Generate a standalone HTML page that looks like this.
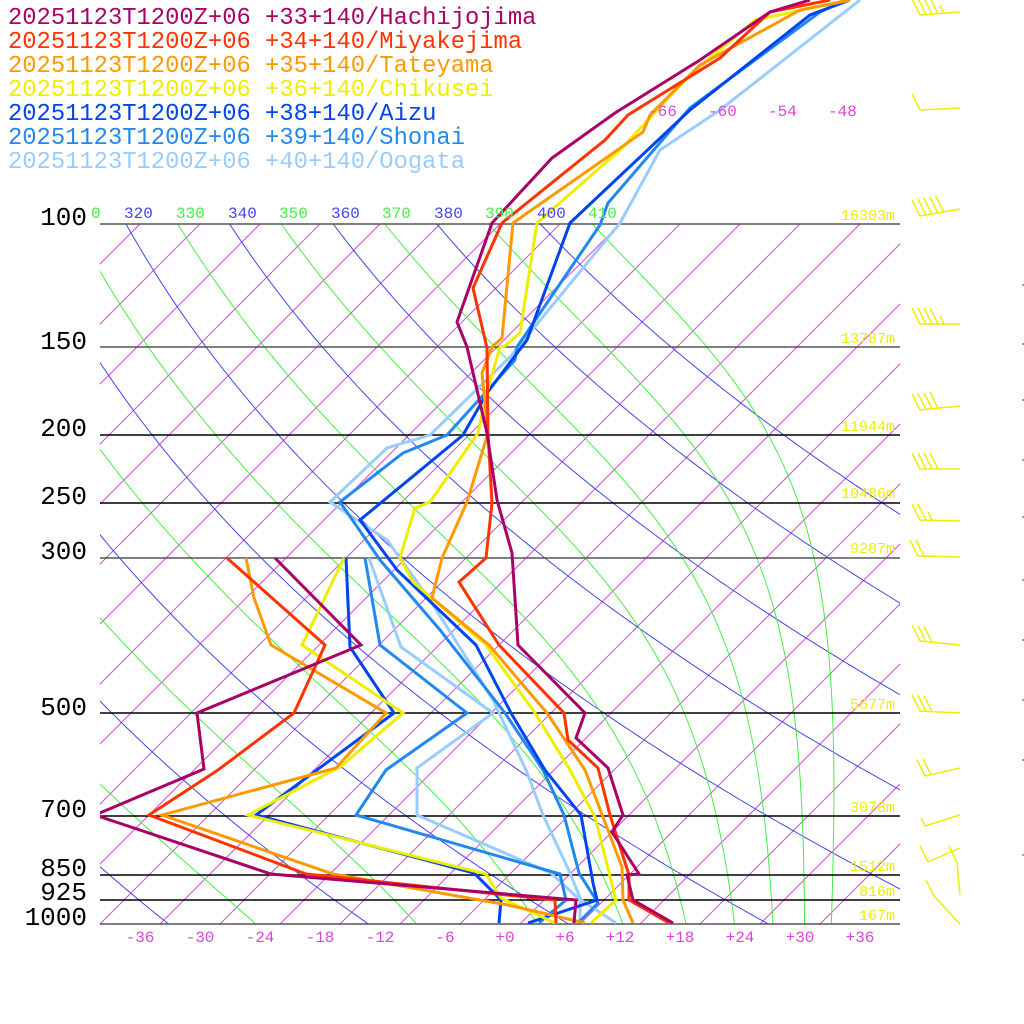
<!DOCTYPE html>
<html><head><meta charset="utf-8"><style>
html,body{margin:0;padding:0;background:#fff;width:1024px;height:1024px;overflow:hidden}
svg{display:block}
</style></head><body>
<svg id="c" width="1024" height="1024" viewBox="0 0 1024 1024" xmlns="http://www.w3.org/2000/svg">
<defs><clipPath id="pc"><rect x="100" y="224" width="800" height="700"/></clipPath>
<clipPath id="pc2"><rect x="100" y="0" width="800" height="924"/></clipPath></defs>
<g id="grid" clip-path="url(#pc)"></g>
<g id="plines" stroke="#000" stroke-width="1.5"></g>
<g id="series" fill="none" stroke-width="3" stroke-linejoin="miter" clip-path="url(#pc2)"></g>
<g id="barbs" stroke="#eeee00" stroke-width="1.5" fill="none"></g>
<g font-family="Liberation Mono, DejaVu Sans Mono, monospace" font-size="23.8">
<text x="8" y="24" fill="#aa0066">20251123T1200Z+06 +33+140/Hachijojima</text>
<text x="8" y="48" fill="#ff3300">20251123T1200Z+06 +34+140/Miyakejima</text>
<text x="8" y="72" fill="#ff9900">20251123T1200Z+06 +35+140/Tateyama</text>
<text x="8" y="96" fill="#eeee00">20251123T1200Z+06 +36+140/Chikusei</text>
<text x="8" y="120" fill="#0044ee">20251123T1200Z+06 +38+140/Aizu</text>
<text x="8" y="144" fill="#2288ee">20251123T1200Z+06 +39+140/Shonai</text>
<text x="8" y="168" fill="#99ccff">20251123T1200Z+06 +40+140/Oogata</text>
</g>
<g font-family="Liberation Mono, DejaVu Sans Mono, monospace" font-size="26" fill="#000" text-anchor="end">
<text x="87" y="225">100</text><text x="87" y="349">150</text><text x="87" y="436">200</text>
<text x="87" y="504">250</text><text x="87" y="559">300</text><text x="87" y="715">500</text>
<text x="87" y="817">700</text><text x="87" y="876">850</text><text x="87" y="900">925</text>
<text x="87" y="925">1000</text>
</g>
<g font-family="Liberation Mono, DejaVu Sans Mono, monospace" font-size="16">
<text x="91" y="218" fill="#44ee44">0</text>
<text x="124" y="218" fill="#4444ee">320</text>
<text x="176" y="218" fill="#44ee44">330</text>
<text x="228" y="218" fill="#4444ee">340</text>
<text x="279" y="218" fill="#44ee44">350</text>
<text x="331" y="218" fill="#4444ee">360</text>
<text x="382" y="218" fill="#44ee44">370</text>
<text x="434" y="218" fill="#4444ee">380</text>
<text x="485" y="218" fill="#44ee44">390</text>
<text x="537" y="218" fill="#4444ee">400</text>
<text x="588" y="218" fill="#44ee44">410</text>
</g>
<g font-family="Liberation Mono, DejaVu Sans Mono, monospace" font-size="16" fill="#dd44dd">
<text x="648" y="116">-66</text><text x="708" y="116">-60</text><text x="768" y="116">-54</text><text x="828" y="116">-48</text>
</g>
<g font-family="Liberation Mono, DejaVu Sans Mono, monospace" font-size="16" fill="#dd44dd" text-anchor="middle">
<text x="140" y="942">-36</text><text x="200" y="942">-30</text><text x="260" y="942">-24</text>
<text x="320" y="942">-18</text><text x="380" y="942">-12</text><text x="445" y="942">-6</text>
<text x="505" y="942">+0</text><text x="565" y="942">+6</text><text x="620" y="942">+12</text>
<text x="680" y="942">+18</text><text x="740" y="942">+24</text><text x="800" y="942">+30</text>
<text x="860" y="942">+36</text>
</g>
<g font-family="Liberation Mono, DejaVu Sans Mono, monospace" font-size="15" fill="#eeee00" text-anchor="end">
<text x="895" y="220">16303m</text><text x="895" y="343">13787m</text><text x="895" y="431">11944m</text>
<text x="895" y="498">10486m</text><text x="895" y="553">9287m</text><text x="895" y="709">5677m</text>
<text x="895" y="812">3078m</text><text x="895" y="871">1512m</text><text x="895" y="896">816m</text>
<text x="895" y="920">167m</text>
</g>
<g stroke="#dd44dd" stroke-width="1.5">
<line x1="1022" y1="285" x2="1024" y2="285"/><line x1="1022" y1="344" x2="1024" y2="344"/>
<line x1="1022" y1="400" x2="1024" y2="400"/><line x1="1022" y1="460" x2="1024" y2="460"/>
<line x1="1022" y1="517" x2="1024" y2="517"/><line x1="1022" y1="580" x2="1024" y2="580"/>
<line x1="1022" y1="640" x2="1024" y2="640"/><line x1="1022" y1="700" x2="1024" y2="700"/>
<line x1="1022" y1="760" x2="1024" y2="760"/><line x1="1022" y1="855" x2="1024" y2="855"/>
</g>
</svg>
<script>
(function(){
var NS="http://www.w3.org/2000/svg";
function Y(p){return 924-304*Math.log(1000/p);}
function X(T,p){return 500+10*T+(924-Y(p));}
function el(par,tag,a){var e=document.createElementNS(NS,tag);for(var k in a)e.setAttribute(k,a[k]);par.appendChild(e);return e;}
var g=document.getElementById("grid");
for(var T=-160;T<=36;T+=6){
  el(g,"line",{x1:500+10*T,y1:924,x2:500+10*T+924,y2:0,stroke:"#dd44ee","stroke-width":1});
}
for(var th=200;th<=400;th+=20){
  var pts=[];
  for(var p=1000;p>=95;p-=5){var t=th*Math.pow(p/1000,0.2857)-273.15;pts.push(X(t,p).toFixed(1)+","+Y(p).toFixed(1));}
  el(g,"polyline",{points:pts.join(" "),fill:"none",stroke:"#4444ee","stroke-width":1});
}
var Rd=287.04,cp=1005.7,L=2.501e6,eps=0.622;
for(var th=210;th<=410;th+=20){
  var p=100,T=th*Math.pow(0.1,0.2857),pts=[];
  while(p<=1000.01){
    pts.push(X(T-273.15,p).toFixed(1)+","+Y(p).toFixed(1));
    var es=6.112*Math.exp(17.67*(T-273.15)/(T-29.65));
    var rs=eps*es/Math.max(p-es,1);
    var dTdp=(Rd*T+L*rs)/(cp+L*L*rs*eps/(Rd*T*T))/p;
    var dp=1; T+=dTdp*dp; p+=dp;
  }
  el(g,"polyline",{points:pts.join(" "),fill:"none",stroke:"#44ee44","stroke-width":1});
}
var pl=document.getElementById("plines");
[100,150,200,250,300,500,700,850,925,1000].forEach(function(p){var y=Math.round(Y(p));el(pl,"line",{x1:100,y1:y,x2:900,y2:y,stroke:(p==1000||p==100||p==150||p==300)?"#555":"#000"});});
var S=document.getElementById("series");
var data=[
["#99ccff","616,923 581,900 570,873 543,815 526,770 493,700 430,600 387,540 330,502 387,448 430,435 510,357 620,223 660,150 720,110 860,0"],
["#99ccff","580,923 580,900 551,873 417,815 417,768 493,713 401,647 369,558"],
["#2288ee","578,923 598,903 579,873 564,815 543,770 505,713 440,630 380,560 340,502 403,453 447,435 515,360 517,347 600,225 608,203 690,108 820,12 845,0"],
["#2288ee","539,923 566,900 560,874 356,815 386,770 467,713 380,645 365,558"],
["#0044ee","528,923 597,900 593,883 581,815 545,770 511,713 476,645 397,570 360,520 463,435 487,393 527,340 570,223 690,110 810,15 850,0"],
["#0044ee","499,923 501,900 474,873 256,815 394,713 350,647 346,558"],
["#eeee00","591,923 616,900 595,817 570,770 535,713 486,645 413,582 400,558 415,508 430,502 478,433 487,392 500,347 505,346 520,333 537,223 620,150 690,75 755,20 850,0"],
["#eeee00","555,923 501,898 486,874 248,815 340,767 403,713 302,645 344,558"],
["#ff9900","633,923 623,900 622,867 585,770 547,713 489,645 432,598 442,558 467,502 488,433 482,373 492,347 502,338 513,223 643,132 650,115 700,65 800,10 850,0"],
["#ff9900","585,923 508,905 333,874 162,815 336,768 386,713 271,645 254,598 246,558"],
["#ff3300","669,923 629,900 629,875 610,815 598,768 568,740 564,713 499,645 459,582 486,558 492,503 488,433 487,348 473,288 502,223 605,140 628,115 720,58 770,12 830,0"],
["#ff3300","556,923 555,900 306,874 149,815 218,770 294,713 325,645 227,558"],
["#aa0066","673,923 633,900 627,875 639,874 612,832 623,815 608,768 576,738 585,713 518,645 512,553 497,500 487,433 467,347 457,322 492,223 552,158 615,113 700,60 770,12 810,0"],
["#aa0066","574,923 576,900 271,874 95,815 204,769 197,713 361,645 275,558"]
];
data.forEach(function(d){el(S,"polyline",{points:d[1],stroke:d[0]});});
var B=document.getElementById("barbs");
function barb(by,ty,nf,half,tx){
  tx=tx||920; var bx=960;
  el(B,"line",{x1:bx,y1:by,x2:tx,y2:ty});
  var dx=(bx-tx),dy=(by-ty),len=Math.sqrt(dx*dx+dy*dy),ux=dx/len,uy=dy/len;
  for(var i=0;i<nf+(half?1:0);i++){
    var sx=tx+ux*6*i,sy=ty+uy*6*i,f=(i<nf)?1:0.5;
    el(B,"line",{x1:sx,y1:sy,x2:sx-8*f,y2:sy-16*f});
  }
}
barb(12,15,4,1);barb(108,110,1,0);barb(209,216,5,0);barb(324,324,4,1);
barb(406,410,4,0);barb(469,469,4,0);barb(521,520,2,1);barb(557,556,2,0,918);
barb(645,641,3,0);barb(713,711,3,0);barb(768,776,2,0,925);barb(815,826,0,1,925);
barb(848,862,1,0,928);barb(895,862,1,0,957);barb(924,896,1,0,934);
})();
</script>
</body></html>
